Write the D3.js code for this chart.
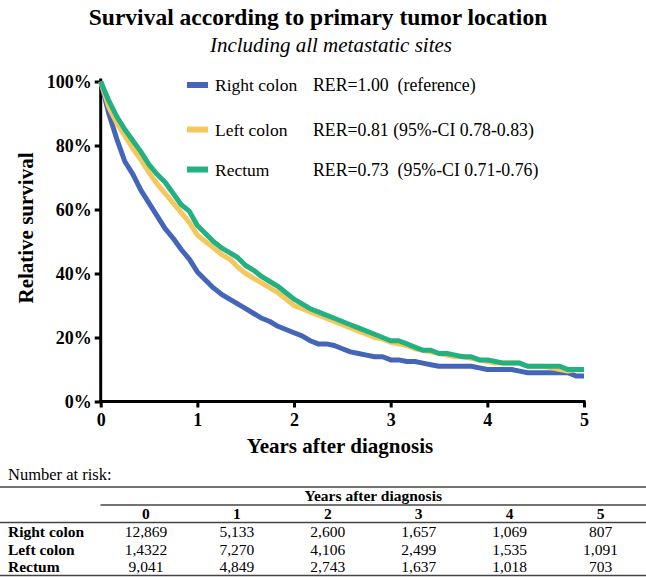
<!DOCTYPE html>
<html>
<head>
<meta charset="utf-8">
<script src="https://cdn.jsdelivr.net/npm/d3@7"></script>
<style>
  html, body { margin: 0; padding: 0; background: #fff; }
  svg { display: block; }
  text { font-family: "Liberation Serif", "Times New Roman", serif; fill: #000; white-space: pre; }
</style>
</head>
<body>
<svg id="chart" width="646" height="577"></svg>
<script>
// ---- Data ----
const months = d3.range(0, 61); // monthly grid, 0..60 months
const seriesNames = ["Right colon", "Left colon", "Rectum"];
const rightColon = [100, 90, 82, 75, 71, 66, 62, 58, 54, 51, 47.5, 44.5, 40.5, 38, 35.5, 33.5, 32, 30.5, 29, 27.5,
  26, 25, 23.5, 22.5, 21.5, 20.5, 19, 18, 18, 17.5, 16.5, 15.5, 15, 14.5, 14, 14, 13, 13, 12.5, 12.5,
  12, 11.5, 11, 11, 11, 11, 11, 10.5, 10, 10, 10, 10, 9.5, 9, 9, 9, 9, 9, 9, 8, 8];
const leftColon = [100, 92, 87, 83, 79, 75.5, 71.5, 68, 65, 62, 59, 56, 52, 50, 48, 46, 44.5, 42, 40, 38.5,
  37, 35.5, 34, 32, 30, 29, 28, 27, 26, 25, 24, 23, 22, 21, 20, 19.5, 18.5, 18, 17.5, 16.5,
  16, 15.5, 15, 14.5, 14, 14, 13.5, 13, 12.5, 12, 12, 12, 12, 11, 11, 11, 10.5, 10, 9.5, 10, 10];
const rectum = [100, 94, 89, 85, 81.5, 78, 74, 71, 68.5, 65, 61.5, 59.5, 55, 52.5, 50, 48, 46.5, 45, 42.5, 41,
  39, 37.5, 36, 34, 32, 30.5, 29, 28, 27, 26, 25, 24, 23, 22, 21, 20, 19, 19, 18, 17,
  16, 16, 15, 15, 14.5, 14, 14, 13, 13, 12.5, 12, 12, 12, 11, 11, 11, 11, 11, 10, 10, 10];
const seriesColors = ["#4565b8", "#f5c85c", "#23b184"];
const rerLabels = ["RER=1.00  (reference)", "RER=0.81 (95%-CI 0.78-0.83)", "RER=0.73  (95%-CI 0.71-0.76)"];
const xTicks = [0, 1, 2, 3, 4, 5];
const yTicks = [0, 20, 40, 60, 80, 100];
const riskYears = ["0", "1", "2", "3", "4", "5"];
const riskRight = ["12,869", "5,133", "2,600", "1,657", "1,069", "807"];
const riskLeft = ["1,4322", "7,270", "4,106", "2,499", "1,535", "1,091"];
const riskRectum = ["9,041", "4,849", "2,743", "1,637", "1,018", "703"];

// ---- Layout ----
const svg = d3.select("#chart");
const x = d3.scaleLinear().domain([0, 5]).range([100.7, 584]);
const y = d3.scaleLinear().domain([0, 100]).range([401.5, 81.5]);

// Titles
svg.append("text").attr("x", 318).attr("y", 25).attr("text-anchor", "middle")
  .style("font-size", "23.5px").style("font-weight", "bold")
  .text("Survival according to primary tumor location");
svg.append("text").attr("x", 331).attr("y", 52).attr("text-anchor", "middle")
  .style("font-size", "21px").style("font-style", "italic")
  .text("Including all metastatic sites");

// Axes
const yAxis = d3.axisLeft(y).tickValues(yTicks).tickFormat(d => d + "%").tickSize(6).tickSizeOuter(0).tickPadding(3);
const gy = svg.append("g").attr("transform", `translate(${x(0)},0)`).call(yAxis);
const xAxis = d3.axisBottom(x).tickValues(xTicks).tickFormat(d3.format("d")).tickSize(6).tickSizeOuter(0).tickPadding(3);
const gx = svg.append("g").attr("transform", `translate(0,${y(0)})`).call(xAxis);
[gy, gx].forEach(g => {
  g.select(".domain").attr("stroke", "#000").attr("stroke-width", 3);
  g.selectAll(".tick line").attr("stroke", "#000").attr("stroke-width", 3);
  g.selectAll(".tick text").style("font-family", "'Liberation Serif', serif")
    .style("font-size", "18px").style("font-weight", "bold").attr("fill", "#000");
});
gy.select(".domain").attr("d", `M0,${y(100) - 3}V${y(0) + 1.5}`);
gx.select(".domain").attr("d", `M${x(0) - 1.5},0H${x(5) + 1.5}`);
gx.selectAll(".tick text").attr("dy", "0.85em");

// Axis titles
svg.append("text").attr("transform", `translate(33,${228}) rotate(-90)`).attr("text-anchor", "middle")
  .style("font-size", "21px").style("font-weight", "bold").text("Relative survival");
svg.append("text").attr("x", 340).attr("y", 453).attr("text-anchor", "middle")
  .style("font-size", "21px").style("font-weight", "bold").text("Years after diagnosis");

// Curves
const allSeries = [rightColon, leftColon, rectum];
const line = d3.line().x((d, i) => x(months[i] / 12)).y(d => y(d)).curve(d3.curveLinear);
allSeries.forEach((s, k) => {
  svg.append("path").datum(s).attr("d", line).attr("fill", "none")
    .attr("stroke", seriesColors[k]).attr("stroke-width", 5)
    .attr("stroke-linejoin", "round").attr("stroke-linecap", "butt");
});

// Legend
const legendY = [85, 129.5, 169.5];
seriesNames.forEach((name, k) => {
  svg.append("rect").attr("x", 187).attr("y", legendY[k] - 3).attr("width", 21).attr("height", 6)
    .attr("fill", seriesColors[k]);
  svg.append("text").attr("x", 215).attr("y", legendY[k] + 6).style("font-size", "17.5px").text(name);
  svg.append("text").attr("x", 313).attr("y", legendY[k] + 6).style("font-size", "17.8px").text(rerLabels[k]);
});

// Number at risk table
svg.append("text").attr("x", 8).attr("y", 480).style("font-size", "16.5px").text("Number at risk:");
const colX = d3.scaleBand().domain(riskYears).range([100.5, 646]);
const hl = (x1, x2, yy) => svg.append("line").attr("x1", x1).attr("x2", x2).attr("y1", yy).attr("y2", yy)
  .attr("stroke", "#444").attr("stroke-width", 1.5);
hl(0, 646, 487);
svg.append("text").attr("x", (100.5 + 646) / 2).attr("y", 501).attr("text-anchor", "middle")
  .style("font-size", "15.5px").style("font-weight", "bold").text("Years after diagnosis");
hl(100.5, 646, 505);
riskYears.forEach(v => {
  svg.append("text").attr("x", colX(v) + colX.bandwidth() / 2).attr("y", 519).attr("text-anchor", "middle")
    .style("font-size", "15.5px").style("font-weight", "bold").text(v);
});
hl(0, 646, 522.5);
const rows = [riskRight, riskLeft, riskRectum];
const rowY = [537, 554.5, 571.5];
rows.forEach((r, k) => {
  svg.append("text").attr("x", 8).attr("y", rowY[k]).style("font-size", "15.5px").style("font-weight", "bold")
    .text(seriesNames[k]);
  r.forEach((v, j) => {
    svg.append("text").attr("x", colX(riskYears[j]) + colX.bandwidth() / 2).attr("y", rowY[k])
      .attr("text-anchor", "middle").style("font-size", "15.5px").text(v);
  });
});
hl(0, 646, 575.5);
</script>
</body>
</html>
